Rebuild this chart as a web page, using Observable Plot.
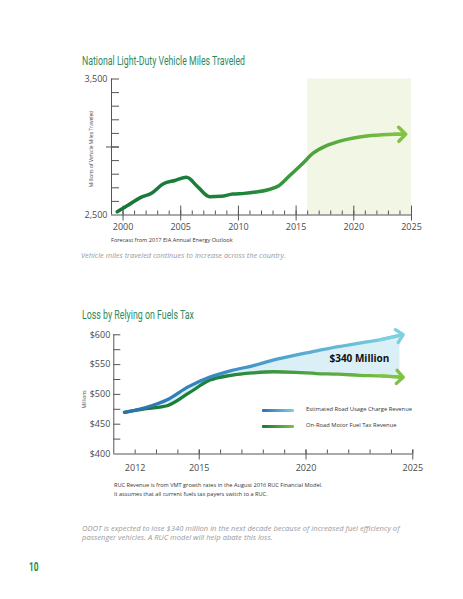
<!DOCTYPE html>
<html><head><meta charset="utf-8">
<script src="https://cdn.jsdelivr.net/npm/d3@7"></script>
<script src="https://cdn.jsdelivr.net/npm/@observablehq/plot@0.6"></script>
<style>
body{margin:0;background:#fff;}
#page{position:relative;width:463px;height:599px;overflow:hidden;font-family:"Open Sans",sans-serif;}
.abs{position:absolute;white-space:nowrap;line-height:1;}
.title{font-family:Roboto,sans-serif;color:#2f8a5e;font-size:13px;transform-origin:0 50%;}
.note{font-size:5.6px;color:#333;}
.ital{font-style:italic;font-size:7.4px;color:#9a9a9a;}
.leg{font-size:5.8px;color:#333;}
.sw{position:absolute;height:3px;width:32px;border-radius:1px;}
.chart{position:absolute;left:0;}
</style></head>
<body><div id="page"></div>
<script>
// ---------- Chart 1 data: National Light-Duty VMT ----------
const vmtYears  = [1999.5,2000.5,2001.5,2002.5,2003.5,2004.5,2005.5,2006.5,2007.5,2008.5,2009.5,2010.5,2011.5,2012.5,2013.5,2014.5,2015.5,2016.5,2017.5,2018.5,2019.5,2020.5,2021.5,2022.5,2023.5,2024.2];
const vmtValues = [2524,2575,2628,2662,2730,2754,2777,2705,2635,2637,2654,2659,2669,2684,2715,2794,2873,2956,3005,3036,3058,3074,3084,3090,3093,3094];
const forecastRange = [2016, 2025];
const vmtYTickLabels = [2500, 3500];
const vmtXTickLabels = [2000, 2005, 2010, 2015, 2020, 2025];

// ---------- Chart 2 data: Loss by relying on fuels tax ----------
const revYears   = [2011.5,2012.5,2013.5,2014.5,2015.5,2016.5,2017.5,2018.5,2019.5,2020.5,2021.5,2022.5,2023.5,2024.4];
const rucValues  = [470,478,491,513,529,540,548,558,566,573,580,586,592,599];
const fuelValues = [470,476,481,502,524,532,536,538,537,535,534,532,531,529];
const revYTickLabels = [400, 450, 500, 550, 600];
const revXTickLabels = [2012, 2015, 2020, 2025];
const revMajorTicks = [2015, 2020, 2025];
const gapLabel = "$340 Million";
const gapAtIndex = 11;

const vmtData = vmtYears.map((year, i) => ({year, value: vmtValues[i]}));
const revData = revYears.map((year, i) => ({year, ruc: rucValues[i], fuel: fuelValues[i]}));

const page = document.getElementById("page");
function add(html, cls, left, top, extra = "") {
  const d = document.createElement("div");
  d.className = "abs " + cls;
  d.style.left = left + "px"; d.style.top = top + "px";
  if (extra) d.style.cssText += extra;
  d.innerHTML = html;
  page.appendChild(d);
  return d;
}
function condense(el, targetWidth) {
  const w = el.getBoundingClientRect().width;
  if (w > 0) el.style.transform = `scaleX(${targetWidth / w})`;
}
function gradients(specs) {
  return () => {
    const defs = d3.create("svg:defs");
    for (const s of specs) {
      const g = defs.append("linearGradient").attr("id", s.id)
        .attr("x1", "0").attr("x2", "1").attr("y1", "0").attr("y2", "0");
      for (const [o, c] of s.stops) g.append("stop").attr("offset", o).attr("stop-color", c);
    }
    return defs.node();
  };
}
const axisColor = "#555";
const baseStyle = {fontFamily: "Open Sans, sans-serif", fontSize: "9px", color: "#4a4a4a", background: "transparent", overflow: "visible"};

// ---------- Chart 1 ----------
{
  const W = 463, H = 175, mt = 8.5, mb = 30.5, ml = 111, mr = 52;
  const plotH = H - mt - mb, plotW = W - ml - mr;
  const xDomain = [1999, 2025], yDomain = [2500, 3500];
  const chart = Plot.plot({
    width: W, height: H, marginTop: mt, marginBottom: mb, marginLeft: ml, marginRight: mr,
    style: baseStyle,
    x: {domain: xDomain},
    y: {domain: yDomain},
    marks: [
      gradients([{id: "vmtGrad", stops: [[0, "#16763a"], [0.45, "#1f843b"], [0.7, "#4da53d"], [1, "#80c342"]]}]),
      Plot.rect([forecastRange], {x1: d => d[0], x2: d => d[1], fill: "#f1f6e5"}),
      Plot.tickY(d3.range(yDomain[0] + 100, yDomain[1] + 1, 100), {y: d => d, stroke: axisColor, insetRight: plotW - 8}),
      Plot.tickY([(yDomain[0] + yDomain[1]) / 2], {y: d => d, stroke: axisColor, insetLeft: -5, insetRight: plotW - 8}),
      Plot.tickX(d3.range(2000, 2026), {x: d => d, stroke: axisColor, insetTop: plotH - 4}),
      Plot.tickX(vmtXTickLabels, {x: d => d, stroke: axisColor, insetTop: plotH - 9, insetBottom: -6}),
      Plot.ruleX([xDomain[0]], {stroke: axisColor}),
      Plot.ruleY([yDomain[0]], {stroke: axisColor}),
      Plot.axisY({ticks: vmtYTickLabels, tickSize: 0, tickPadding: 4, tickFormat: d3.format(","), label: null}),
      Plot.axisX({ticks: vmtXTickLabels, tickSize: 0, tickPadding: 9, tickFormat: d => String(d), label: null}),
      Plot.text(["Millions of Vehicle Miles Traveled"], {frameAnchor: "left", textAnchor: "middle", rotate: -90, dx: -20, dy: 2, fontSize: 5, fill: "#444"}),
      Plot.line(vmtData, {x: "year", y: "value", stroke: "url(#vmtGrad)", strokeWidth: 3.5, curve: "monotone-x", strokeLinecap: "round"}),
      Plot.line(vmtData.slice(-2), {x: "year", y: "value", stroke: "#80c342", strokeWidth: 3.5, markerEnd: "arrow"})
    ]
  });
  chart.classList.add("chart");
  chart.style.top = "70px";
  page.appendChild(chart);
}

// ---------- Chart 2 ----------
{
  const W = 463, H = 150, mt = 9.3, mb = 21.5, ml = 113.3, mr = 50.7;
  const plotH = H - mt - mb, plotW = W - ml - mr;
  const xDomain = [2011, 2025], yDomain = [400, 600];
  const gap = revData[gapAtIndex];
  const chart = Plot.plot({
    width: W, height: H, marginTop: mt, marginBottom: mb, marginLeft: ml, marginRight: mr,
    style: baseStyle,
    x: {domain: xDomain},
    y: {domain: yDomain},
    marks: [
      gradients([
        {id: "rucGrad", stops: [[0, "#2c6fb0"], [0.35, "#3a8cc4"], [1, "#7dd0e0"]]},
        {id: "fuelGrad", stops: [[0, "#16763a"], [0.35, "#1e843b"], [1, "#80c342"]]}
      ]),
      Plot.areaY(revData, {x: "year", y1: "fuel", y2: "ruc", fill: "#daf0f6", curve: "monotone-x"}),
      Plot.tickY(d3.range(yDomain[0] + 25, yDomain[1] + 1, 25), {y: d => d, stroke: axisColor, insetRight: plotW - 7}),
      Plot.tickX(d3.range(2012, 2026), {x: d => d, stroke: axisColor, insetTop: plotH - 4}),
      Plot.tickX(revMajorTicks, {x: d => d, stroke: axisColor, insetTop: plotH - 4, insetBottom: -6}),
      Plot.ruleX([xDomain[0]], {stroke: axisColor}),
      Plot.ruleY([yDomain[0]], {stroke: axisColor}),
      Plot.axisY({ticks: revYTickLabels, tickSize: 0, tickPadding: 3.5, tickFormat: d => "$" + d, label: null}),
      Plot.axisX({ticks: revXTickLabels, tickSize: 0, tickPadding: 10.5, tickFormat: d => String(d), label: null}),
      Plot.text(["Millions"], {frameAnchor: "left", textAnchor: "middle", rotate: -90, dx: -29, dy: 5, fontSize: 5, fill: "#444"}),
      Plot.line(revData, {x: "year", y: "fuel", stroke: "url(#fuelGrad)", strokeWidth: 3.3, curve: "monotone-x"}),
      Plot.line(revData, {x: "year", y: "ruc", stroke: "url(#rucGrad)", strokeWidth: 3.3, curve: "monotone-x"}),
      Plot.line(revData.slice(-2), {x: "year", y: "fuel", stroke: "#80c342", strokeWidth: 3.3, markerEnd: "arrow"}),
      Plot.line(revData.slice(-2), {x: "year", y: "ruc", stroke: "#7dd0e0", strokeWidth: 3.3, markerEnd: "arrow"}),
      Plot.text([gap], {x: "year", y: d => (d.ruc + d.fuel) / 2, text: () => gapLabel, fontWeight: "bold", fontSize: 10, fill: "#111", fontFamily: "Open Sans, sans-serif"})
    ]
  });
  chart.classList.add("chart");
  chart.style.top = "325px";
  page.appendChild(chart);
}

// ---------- Titles, captions, legend ----------
const t1 = add("National Light-Duty Vehicle Miles Traveled", "title", 81.5, 53.5);
condense(t1, 163);
add("Forecast from 2017 EIA Annual Energy Outlook", "note", 111, 238);
add("Vehicle miles traveled continues to increase across the country.", "ital", 81, 252);
const t2 = add("Loss by Relying on Fuels Tax", "title", 81.5, 307.5);
condense(t2, 112);
add("RUC Revenue is from VMT growth rates in the August 2016 RUC Financial Model.<br>It assumes that all current fuels tax payers switch to a RUC.", "note", 114, 481, "line-height:8.7px;");
add("ODOT is expected to lose $340 million in the next decade because of increased fuel efficiency of<br>passenger vehicles. A RUC model will help abate this loss.", "ital", 82, 524, "line-height:9px;font-size:7.6px;");
const pn = add("10", "title", 28.5, 561, "font-weight:bold;font-size:12px;color:#1f8a3e;");
condense(pn, 9.5);
// legend
const sw1 = document.createElement("div"); sw1.className = "sw";
sw1.style.cssText += "left:262px;top:408.5px;background:linear-gradient(to right,#2c6fb0,#7dd0e0);";
page.appendChild(sw1);
const sw2 = document.createElement("div"); sw2.className = "sw";
sw2.style.cssText += "left:262px;top:424.5px;background:linear-gradient(to right,#16763a,#80c342);";
page.appendChild(sw2);
add("Estimated Road Usage Charge Revenue", "leg", 306, 407);
add("On-Road Motor Fuel Tax Revenue", "leg", 306, 423);
</script>
</body></html>
